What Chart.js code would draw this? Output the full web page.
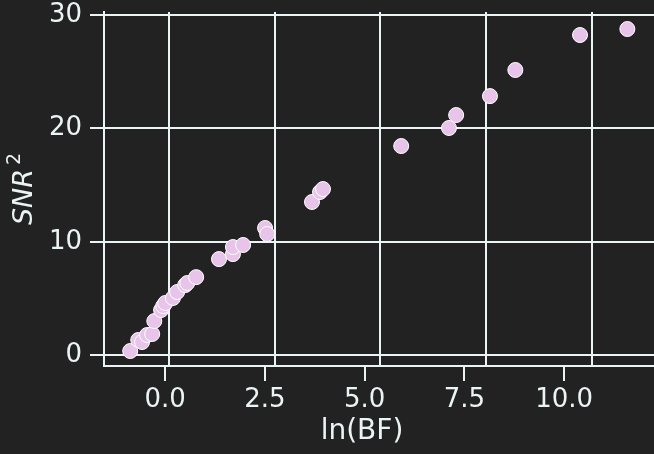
<!DOCTYPE html>
<html>
<head>
<meta charset="utf-8">
<script src="https://cdn.jsdelivr.net/npm/chart.js@4"></script>
<style>
  html, body { margin: 0; padding: 0; background: #222222; overflow: hidden; }
  canvas { display: block; }
</style>
</head>
<body>
<canvas id="snr" width="654" height="454"></canvas>
<script>
// ln(BF) against squared SNR, one point per event
const lnBF = [-0.92, -0.73, -0.64, -0.52, -0.40, -0.35, -0.19, -0.14, -0.09, 0.09,
              0.19, 0.38, 0.43, 0.64, 1.18, 1.51, 1.51, 1.75, 2.27, 2.32,
              3.38, 3.57, 3.64, 5.49, 6.62, 6.79, 7.59, 8.19, 9.72, 10.84]
const snr2 = [0.38, 1.35, 1.17, 1.79, 1.88, 3.02, 3.99, 4.34, 4.61, 5.05,
              5.58, 6.19, 6.37, 6.89, 8.48, 8.92, 9.54, 9.72, 11.22, 10.69,
              13.51, 14.39, 14.65, 18.44, 20.03, 21.17, 22.84, 25.14, 28.22, 28.75]

const xTicks = [0, 2.5, 5, 7.5, 10]
const yTicks = [0, 10, 20, 30]

const fg = '#eaf4f4'
const font = 'DejaVu Sans'

// axis titles drawn by hand so the x title sits under the labels, not the grid
const axisTitles = {
  id: 'axisTitles',
  afterDraw(chart) {
    const ctx = chart.ctx
    ctx.save()
    ctx.fillStyle = fg
    ctx.textAlign = 'center'
    ctx.textBaseline = 'middle'
    ctx.font = '28px "' + font + '"'
    ctx.fillText('ln(BF)', 362, 432)

    ctx.translate(32, 189)
    ctx.rotate(-Math.PI / 2)
    ctx.textBaseline = 'alphabetic'
    ctx.textAlign = 'left'
    ctx.font = 'italic 27px "' + font + '"'
    const w = ctx.measureText('SNR').width
    ctx.font = '19px "' + font + '"'
    const w2 = ctx.measureText('2').width
    const x0 = -(w + w2 + 4) / 2
    ctx.font = 'italic 27px "' + font + '"'
    ctx.fillText('SNR', x0, 0)
    ctx.font = '19px "' + font + '"'
    ctx.fillText('2', x0 + w + 4, -12)
    ctx.restore()
  }
}

const fixTicks = vals => scale => { scale.ticks = vals.map(v => ({ value: v })) }

// drop the extra room chart.js reserves for overhanging tick labels
const noPad = size => scale => {
  if (size.width) scale.width = size.width
  if (size.height !== undefined) scale.height = size.height
  scale.paddingTop = 0
  scale.paddingBottom = 0
  scale.paddingLeft = 0
  scale.paddingRight = 0
}

new Chart(document.getElementById('snr'), {
  type: 'scatter',
  data: {
    datasets: [{
      data: lnBF.map((x, i) => ({ x: x, y: snr2[i] })),
      backgroundColor: '#e9c4ea',
      borderColor: '#ffffff',
      borderWidth: 1,
      pointRadius: 7.5,
      pointHoverRadius: 7.5,
      xAxisID: 'x',
      yAxisID: 'y'
    }]
  },
  options: {
    responsive: false,
    animation: false,
    layout: { autoPadding: false, padding: { top: 12, right: 0, left: 0, bottom: 0 } },
    plugins: {
      legend: { display: false },
      tooltip: { enabled: false }
    },
    scales: {
      // grid lines, same scale as the points
      x: {
        type: 'linear',
        position: 'top',
        min: -1.54,
        max: 11.47,
        afterBuildTicks: fixTicks(xTicks),
        afterFit: noPad({ height: 0 }),
        ticks: { display: false },
        grid: { color: fg, lineWidth: 2, drawTicks: false },
        border: { display: false }
      },
      // labelled axis along the bottom spine
      x2: {
        type: 'linear',
        position: 'bottom',
        min: -1.53,
        max: 12.25,
        afterBuildTicks: fixTicks(xTicks),
        afterFit: noPad({ height: 88 }),
        ticks: {
          color: fg,
          font: { family: font, size: 26 },
          padding: 4,
          maxRotation: 0,
          callback: v => v.toFixed(1)
        },
        grid: { drawOnChartArea: false, drawTicks: true, tickLength: 15, color: fg, lineWidth: 2 },
        border: { display: true, color: fg, width: 2 }
      },
      y: {
        type: 'linear',
        position: 'left',
        min: -0.94,
        max: 30.25,
        afterBuildTicks: fixTicks(yTicks),
        afterFit: noPad({ width: 104 }),
        ticks: {
          color: fg,
          font: { family: font, size: 26 },
          padding: 8
        },
        grid: { color: fg, lineWidth: 2, tickLength: 14 },
        border: { display: true, color: fg, width: 2 }
      }
    }
  },
  plugins: [axisTitles]
})
</script>
</body>
</html>
